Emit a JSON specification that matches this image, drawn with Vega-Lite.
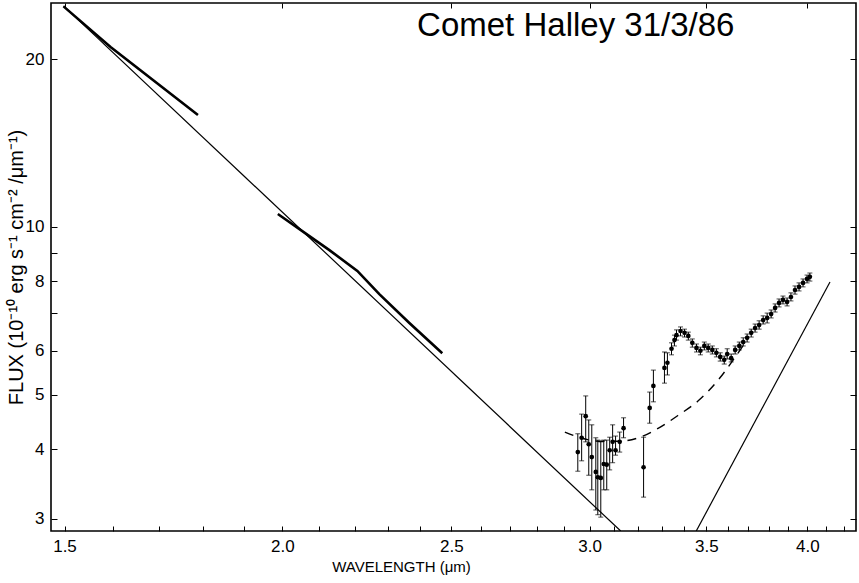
{
  "$schema": "https://vega.github.io/schema/vega-lite/v6.json",
  "width": 805,
  "height": 528,
  "autosize": {"type": "none"},
  "padding": {"left": 51, "top": 3, "right": 3, "bottom": 52},
  "background": "white",
  "config": {
    "view": {"stroke": "black", "strokeWidth": 1.6}
  },
  "resolve": {"axis": {"x": "independent", "y": "independent"}},
  "datasets": {
    "lines": [
      {"series": "fit", "wl": 1.498, "flux": 24.9},
      {"series": "fit", "wl": 3.126, "flux": 2.852},
      {"series": "jhk1", "wl": 1.498, "flux": 24.85},
      {"series": "jhk1", "wl": 1.594, "flux": 21.02},
      {"series": "jhk1", "wl": 1.789, "flux": 15.87},
      {"series": "jhk2", "wl": 1.988, "flux": 10.55},
      {"series": "jhk2", "wl": 2.060, "flux": 9.76},
      {"series": "jhk2", "wl": 2.128, "flux": 9.09},
      {"series": "jhk2", "wl": 2.208, "flux": 8.34},
      {"series": "jhk2", "wl": 2.273, "flux": 7.58},
      {"series": "jhk2", "wl": 2.365, "flux": 6.73},
      {"series": "jhk2", "wl": 2.470, "flux": 5.94},
      {"series": "continuum", "wl": 2.904, "flux": 4.29},
      {"series": "continuum", "wl": 2.958, "flux": 4.20},
      {"series": "continuum", "wl": 3.037, "flux": 4.13},
      {"series": "continuum", "wl": 3.118, "flux": 4.13},
      {"series": "continuum", "wl": 3.201, "flux": 4.19},
      {"series": "continuum", "wl": 3.286, "flux": 4.36},
      {"series": "continuum", "wl": 3.374, "flux": 4.60},
      {"series": "continuum", "wl": 3.463, "flux": 4.88},
      {"series": "continuum", "wl": 3.556, "flux": 5.32},
      {"series": "continuum", "wl": 3.627, "flux": 5.78},
      {"series": "continuum", "wl": 3.690, "flux": 6.25},
      {"series": "thermal", "wl": 3.454, "flux": 2.852},
      {"series": "thermal", "wl": 4.121, "flux": 7.97}
    ],
    "spec": [
      {"wl": 2.954, "flux": 3.95, "lo": 3.65, "hi": 4.26},
      {"wl": 2.969, "flux": 4.19, "lo": 3.81, "hi": 4.62},
      {"wl": 2.985, "flux": 4.58, "lo": 4.12, "hi": 4.98},
      {"wl": 2.997, "flux": 4.08, "lo": 3.59, "hi": 4.51},
      {"wl": 3.009, "flux": 3.87, "lo": 3.38, "hi": 4.42},
      {"wl": 3.025, "flux": 3.64, "lo": 3.11, "hi": 4.19},
      {"wl": 3.033, "flux": 3.56, "lo": 3.05, "hi": 4.15},
      {"wl": 3.045, "flux": 3.55, "lo": 3.02, "hi": 4.12},
      {"wl": 3.057, "flux": 3.76, "lo": 3.38, "hi": 4.15},
      {"wl": 3.069, "flux": 3.75, "lo": 3.38, "hi": 4.15},
      {"wl": 3.081, "flux": 3.98, "lo": 3.67, "hi": 4.20},
      {"wl": 3.093, "flux": 4.12, "lo": 3.78, "hi": 4.42},
      {"wl": 3.105, "flux": 3.98, "lo": 3.90, "hi": 4.22},
      {"wl": 3.122, "flux": 4.12, "lo": 3.95, "hi": 4.29},
      {"wl": 3.138, "flux": 4.36, "lo": 4.19, "hi": 4.55},
      {"wl": 3.222, "flux": 3.71, "lo": 3.28, "hi": 4.20},
      {"wl": 3.248, "flux": 4.74, "lo": 4.45, "hi": 5.06},
      {"wl": 3.264, "flux": 5.19, "lo": 4.86, "hi": 5.54},
      {"wl": 3.312, "flux": 5.59, "lo": 5.25, "hi": 5.97},
      {"wl": 3.325, "flux": 5.71, "lo": 5.43, "hi": 5.95},
      {"wl": 3.343, "flux": 6.05, "lo": 5.90, "hi": 6.20},
      {"wl": 3.356, "flux": 6.27, "lo": 6.12, "hi": 6.40},
      {"wl": 3.365, "flux": 6.40, "lo": 6.27, "hi": 6.54},
      {"wl": 3.383, "flux": 6.51, "lo": 6.38, "hi": 6.62},
      {"wl": 3.401, "flux": 6.46, "lo": 6.35, "hi": 6.56},
      {"wl": 3.418, "flux": 6.38, "lo": 6.27, "hi": 6.48},
      {"wl": 3.436, "flux": 6.20, "lo": 6.09, "hi": 6.30},
      {"wl": 3.455, "flux": 6.07, "lo": 5.97, "hi": 6.17},
      {"wl": 3.473, "flux": 6.00, "lo": 5.90, "hi": 6.09},
      {"wl": 3.491, "flux": 6.12, "lo": 6.02, "hi": 6.22},
      {"wl": 3.509, "flux": 6.07, "lo": 5.97, "hi": 6.17},
      {"wl": 3.528, "flux": 6.02, "lo": 5.92, "hi": 6.12},
      {"wl": 3.547, "flux": 5.95, "lo": 5.85, "hi": 6.05},
      {"wl": 3.565, "flux": 5.85, "lo": 5.75, "hi": 5.95},
      {"wl": 3.584, "flux": 5.78, "lo": 5.68, "hi": 5.87},
      {"wl": 3.598, "flux": 5.92, "lo": 5.80, "hi": 6.05},
      {"wl": 3.617, "flux": 5.82, "lo": 5.73, "hi": 5.92},
      {"wl": 3.636, "flux": 6.02, "lo": 5.92, "hi": 6.12},
      {"wl": 3.656, "flux": 6.12, "lo": 6.02, "hi": 6.22},
      {"wl": 3.675, "flux": 6.22, "lo": 6.12, "hi": 6.33},
      {"wl": 3.694, "flux": 6.33, "lo": 6.22, "hi": 6.43},
      {"wl": 3.714, "flux": 6.46, "lo": 6.35, "hi": 6.56},
      {"wl": 3.733, "flux": 6.59, "lo": 6.48, "hi": 6.70},
      {"wl": 3.753, "flux": 6.67, "lo": 6.56, "hi": 6.79},
      {"wl": 3.773, "flux": 6.81, "lo": 6.70, "hi": 6.93},
      {"wl": 3.793, "flux": 6.87, "lo": 6.73, "hi": 7.01},
      {"wl": 3.813, "flux": 6.98, "lo": 6.87, "hi": 7.10},
      {"wl": 3.833, "flux": 7.16, "lo": 7.04, "hi": 7.28},
      {"wl": 3.853, "flux": 7.31, "lo": 7.19, "hi": 7.43},
      {"wl": 3.873, "flux": 7.40, "lo": 7.28, "hi": 7.52},
      {"wl": 3.894, "flux": 7.34, "lo": 7.22, "hi": 7.46},
      {"wl": 3.914, "flux": 7.49, "lo": 7.37, "hi": 7.62},
      {"wl": 3.935, "flux": 7.71, "lo": 7.58, "hi": 7.84},
      {"wl": 3.956, "flux": 7.81, "lo": 7.68, "hi": 7.94},
      {"wl": 3.977, "flux": 7.94, "lo": 7.81, "hi": 8.07},
      {"wl": 3.998, "flux": 8.07, "lo": 7.94, "hi": 8.20},
      {"wl": 4.013, "flux": 8.14, "lo": 8.00, "hi": 8.27}
    ]
  },
  "layer": [
    {
      "data": {"name": "lines"},
      "transform": [{"filter": "datum.series === 'fit' || datum.series === 'thermal'"}],
      "mark": {"type": "line", "color": "black", "strokeWidth": 1.2, "clip": true},
      "encoding": {
        "x": {
          "field": "wl", "type": "quantitative",
          "scale": {"type": "log", "domain": [1.4735, 4.265], "nice": false},
          "axis": {
            "orient": "bottom",
            "title": "WAVELENGTH (μm)",
            "values": [1.5, 1.6, 1.7, 1.8, 1.9, 2.0, 2.1, 2.2, 2.3, 2.4, 2.5, 2.6, 2.7, 2.8, 2.9, 3.0, 3.1, 3.2, 3.3, 3.4, 3.5, 3.6, 3.7, 3.8, 3.9, 4.0, 4.1, 4.2],
            "labelExpr": "abs(datum.value * 2 - round(datum.value * 2)) < 0.001 ? format(datum.value, '.1f') : ''",
            "grid": false,
            "domain": false,
            "tickColor": "black",
            "tickSize": -5,
            "labelPadding": 12,
            "labelFontSize": 17,
            "labelColor": "black",
            "labelFont": "Liberation Sans",
            "titleFont": "Liberation Sans",
            "titleFontSize": 15,
            "titleFontWeight": "normal",
            "titleColor": "black",
            "titleX": 350,
            "titlePadding": 5
          }
        },
        "y": {
          "field": "flux", "type": "quantitative",
          "scale": {"type": "log", "domain": [2.852, 25.2], "nice": false},
          "axis": {
            "orient": "left",
            "title": "FLUX (10⁻¹⁰ erg s⁻¹ cm⁻² /μm⁻¹)",
            "values": [3, 4, 5, 6, 7, 8, 9, 10, 20],
            "labelExpr": "datum.value === 7 || datum.value === 9 ? '' : format(datum.value, 'd')",
            "grid": false,
            "domain": false,
            "tickColor": "black",
            "tickSize": -6,
            "labelPadding": 13,
            "labelFontSize": 17,
            "labelColor": "black",
            "labelFont": "Liberation Sans",
            "titleFont": "Liberation Sans",
            "titleFontSize": 20,
            "titleFontWeight": "normal",
            "titleColor": "black",
            "titleX": -25
          }
        },
        "detail": {"field": "series"}
      }
    },
    {
      "data": {"name": "lines"},
      "transform": [{"filter": "datum.series === 'jhk1' || datum.series === 'jhk2'"}],
      "mark": {"type": "line", "color": "black", "strokeWidth": 2.6, "clip": true},
      "encoding": {
        "x": {"field": "wl", "type": "quantitative", "axis": null},
        "y": {"field": "flux", "type": "quantitative", "axis": null},
        "detail": {"field": "series"}
      }
    },
    {
      "data": {"name": "lines"},
      "transform": [{"filter": "datum.series === 'continuum'"}],
      "mark": {"type": "line", "color": "black", "strokeWidth": 1.4, "strokeDash": [9, 7], "interpolate": "monotone", "clip": true},
      "encoding": {
        "x": {"field": "wl", "type": "quantitative", "axis": null},
        "y": {"field": "flux", "type": "quantitative", "axis": null}
      }
    },
    {
      "data": {"name": "spec"},
      "mark": {"type": "rule", "color": "black", "strokeWidth": 1, "clip": true},
      "encoding": {
        "x": {"field": "wl", "type": "quantitative", "axis": null},
        "y": {"field": "lo", "type": "quantitative", "axis": null},
        "y2": {"field": "hi"}
      }
    },
    {
      "data": {"name": "spec"},
      "mark": {"type": "tick", "orient": "horizontal", "color": "black", "size": 5, "thickness": 1, "clip": true},
      "encoding": {
        "x": {"field": "wl", "type": "quantitative", "axis": null},
        "y": {"field": "lo", "type": "quantitative", "axis": null}
      }
    },
    {
      "data": {"name": "spec"},
      "mark": {"type": "tick", "orient": "horizontal", "color": "black", "size": 5, "thickness": 1, "clip": true},
      "encoding": {
        "x": {"field": "wl", "type": "quantitative", "axis": null},
        "y": {"field": "hi", "type": "quantitative", "axis": null}
      }
    },
    {
      "data": {"name": "spec"},
      "mark": {"type": "point", "filled": true, "color": "black", "size": 22, "opacity": 1, "clip": true},
      "encoding": {
        "x": {"field": "wl", "type": "quantitative", "axis": null},
        "y": {"field": "flux", "type": "quantitative", "axis": null}
      }
    },
    {
      "data": {"values": [{}]},
      "mark": {"type": "text", "fontSize": 33, "font": "Liberation Sans", "color": "black", "align": "center", "baseline": "middle"},
      "encoding": {
        "x": {
          "datum": 2.946, "type": "quantitative",
          "axis": {"orient": "top", "title": null, "labels": false, "domain": false, "grid": false, "tickColor": "black", "tickSize": -5, "values": [1.5, 2.0, 2.5, 3.0, 3.5, 4.0]}
        },
        "y": {
          "datum": 22.9, "type": "quantitative",
          "axis": {"orient": "right", "title": null, "labels": false, "domain": false, "grid": false, "tickColor": "black", "tickSize": -6, "values": [3, 4, 5, 6, 7, 8, 9, 10, 20]}
        },
        "text": {"value": "Comet Halley  31/3/86"}
      }
    }
  ]
}
